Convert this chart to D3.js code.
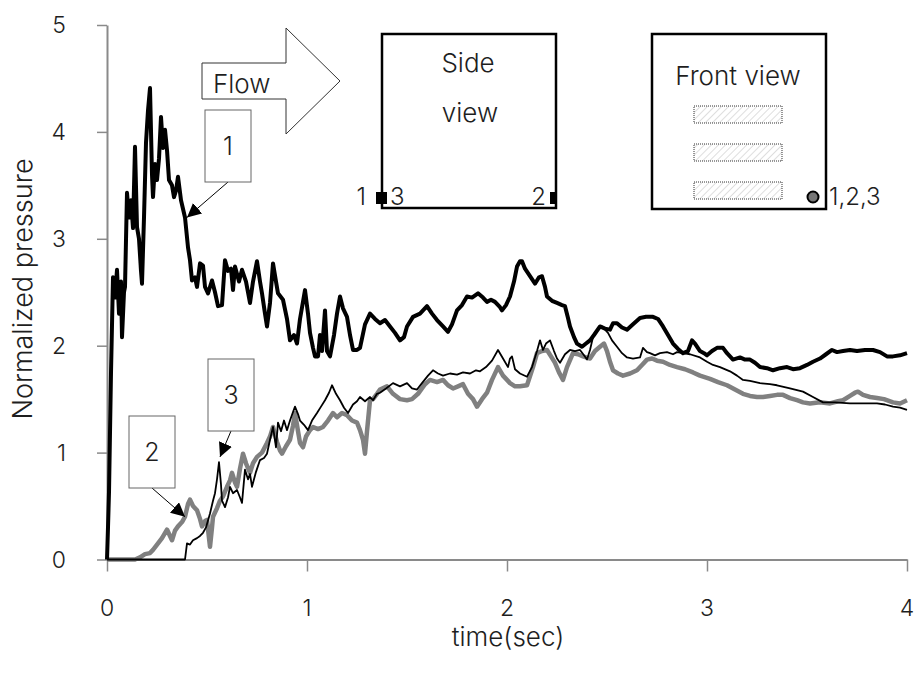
<!DOCTYPE html>
<html>
<head>
<meta charset="utf-8">
<script src="https://cdn.jsdelivr.net/npm/d3@7"></script>
<style>
  html, body { margin: 0; padding: 0; background: #fff; }
  svg { display: block; }
  text { font-family: Inter, "Liberation Sans", Arial, sans-serif; font-weight: 300; fill: #1e1e1e; }
</style>
</head>
<body>
<svg id="chart" width="920" height="681"></svg>
<script>
// Axis ticks
const xTicks = [0, 1, 2, 3, 4];
const yTicks = [0, 1, 2, 3, 4, 5];

// Pressure tap 1 (upstream, thick black): [time s, normalized pressure]
const tap1 = [[0,0],[.005,.3],[.01,.63],[.02,1.75],[.03,2.64],[.04,2.45],[.05,2.71],[.06,2.3],[.07,2.6],[.075,2.08],[.085,2.5],[.09,2.55],[.1,3.43],[.11,3.2],[.12,3.36],[.13,3.1],[.14,3.86],[.15,3.11],[.16,3.0],[.17,2.7],[.175,2.58],[.185,3.2],[.195,3.9],[.205,4.2],[.215,4.41],[.225,3.6],[.23,3.39],[.24,3.7],[.25,3.55],[.26,3.75],[.27,4.14],[.28,3.85],[.29,4.02],[.3,3.83],[.31,3.55],[.325,3.5],[.335,3.39],[.345,3.45],[.355,3.58],[.37,3.36],[.39,3.2],[.405,2.92],[.415,2.8],[.425,2.61],[.44,2.64],[.45,2.55],[.465,2.77],[.48,2.75],[.49,2.55],[.505,2.49],[.525,2.61],[.54,2.5],[.555,2.37],[.575,2.38],[.59,2.8],[.605,2.7],[.62,2.72],[.63,2.52],[.64,2.74],[.66,2.6],[.675,2.71],[.695,2.6],[.715,2.4],[.73,2.6],[.75,2.79],[.765,2.6],[.775,2.49],[.79,2.3],[.8,2.18],[.815,2.4],[.83,2.77],[.845,2.6],[.855,2.49],[.88,2.43],[.9,2.25],[.915,2.05],[.935,2.1],[.95,2.02],[.965,2.25],[.99,2.52],[1.005,2.3],[1.015,2.12],[1.03,1.98],[1.04,1.9],[1.055,1.9],[1.065,2.1],[1.075,1.95],[1.09,2.33],[1.1,1.95],[1.115,1.9],[1.135,2.1],[1.15,2.3],[1.165,2.46],[1.18,2.35],[1.2,2.27],[1.215,2.1],[1.23,1.96],[1.25,1.96],[1.265,1.98],[1.29,2.2],[1.315,2.3],[1.34,2.25],[1.365,2.21],[1.39,2.24],[1.415,2.18],[1.44,2.12],[1.465,2.05],[1.485,2.08],[1.5,2.18],[1.53,2.27],[1.565,2.3],[1.6,2.37],[1.625,2.3],[1.65,2.24],[1.68,2.18],[1.705,2.13],[1.725,2.2],[1.75,2.33],[1.775,2.38],[1.8,2.46],[1.825,2.45],[1.855,2.49],[1.88,2.45],[1.9,2.41],[1.92,2.43],[1.94,2.41],[1.965,2.36],[1.975,2.33],[1.995,2.38],[2.015,2.46],[2.035,2.6],[2.05,2.74],[2.065,2.79],[2.075,2.79],[2.09,2.72],[2.115,2.65],[2.14,2.58],[2.16,2.64],[2.175,2.65],[2.19,2.55],[2.2,2.46],[2.225,2.42],[2.25,2.4],[2.275,2.38],[2.29,2.37],[2.305,2.26],[2.315,2.18],[2.335,2.08],[2.35,2.02],[2.375,1.99],[2.395,2.02],[2.415,2.05],[2.435,2.1],[2.465,2.18],[2.49,2.16],[2.515,2.15],[2.53,2.21],[2.55,2.21],[2.575,2.17],[2.6,2.15],[2.63,2.2],[2.665,2.26],[2.695,2.27],[2.73,2.27],[2.755,2.25],[2.78,2.18],[2.805,2.1],[2.83,2.02],[2.855,1.97],[2.88,1.93],[2.905,1.95],[2.925,2.05],[2.94,2.02],[2.965,1.95],[2.985,1.93],[3.0,1.91],[3.025,1.95],[3.05,1.98],[3.08,1.98],[3.1,1.93],[3.13,1.87],[3.165,1.89],[3.19,1.87],[3.215,1.87],[3.24,1.84],[3.265,1.8],[3.3,1.79],[3.33,1.77],[3.365,1.79],[3.4,1.8],[3.43,1.78],[3.465,1.79],[3.5,1.82],[3.53,1.85],[3.565,1.88],[3.595,1.92],[3.625,1.96],[3.65,1.94],[3.68,1.95],[3.715,1.96],[3.75,1.95],[3.79,1.96],[3.83,1.96],[3.865,1.94],[3.9,1.9],[3.93,1.9],[3.965,1.91],[4.0,1.93]];

// Pressure tap 2 (downstream, grey)
const tap2 = [[0,0],[.14,0],[.165,.02],[.19,.05],[.215,.06],[.23,.09],[.255,.15],[.275,.2],[.3,.28],[.315,.22],[.325,.18],[.34,.27],[.355,.31],[.375,.35],[.39,.4],[.405,.52],[.415,.56],[.43,.5],[.45,.46],[.465,.38],[.475,.31],[.49,.36],[.5,.37],[.51,.2],[.515,.12],[.525,.3],[.53,.4],[.55,.48],[.565,.55],[.58,.59],[.6,.68],[.615,.74],[.625,.81],[.64,.72],[.65,.68],[.665,.85],[.68,.99],[.695,.9],[.715,.81],[.73,.9],[.75,.96],[.775,1.0],[.8,1.09],[.815,1.15],[.83,1.24],[.85,1.1],[.865,1.02],[.875,.99],[.895,1.06],[.915,1.12],[.93,1.25],[.94,1.37],[.955,1.2],[.965,1.09],[.98,1.05],[.995,1.15],[1.015,1.21],[1.03,1.24],[1.055,1.22],[1.08,1.24],[1.105,1.3],[1.13,1.37],[1.15,1.33],[1.175,1.37],[1.2,1.35],[1.225,1.3],[1.25,1.28],[1.265,1.21],[1.28,1.12],[1.29,.99],[1.3,1.2],[1.315,1.49],[1.33,1.5],[1.35,1.55],[1.365,1.59],[1.4,1.62],[1.43,1.55],[1.465,1.5],[1.5,1.49],[1.525,1.5],[1.555,1.55],[1.59,1.64],[1.615,1.68],[1.65,1.66],[1.68,1.68],[1.705,1.63],[1.73,1.6],[1.755,1.62],[1.78,1.64],[1.805,1.55],[1.83,1.5],[1.85,1.43],[1.875,1.5],[1.9,1.56],[1.925,1.68],[1.955,1.8],[1.98,1.72],[2.0,1.68],[2.015,1.65],[2.04,1.62],[2.065,1.62],[2.1,1.63],[2.13,1.8],[2.15,1.93],[2.175,1.95],[2.2,1.96],[2.22,1.9],[2.24,1.84],[2.26,1.75],[2.28,1.68],[2.3,1.8],[2.33,1.93],[2.355,1.92],[2.38,1.9],[2.415,1.88],[2.44,1.95],[2.465,1.99],[2.485,2.02],[2.5,1.95],[2.515,1.85],[2.53,1.77],[2.555,1.74],[2.58,1.72],[2.615,1.74],[2.65,1.77],[2.675,1.82],[2.7,1.87],[2.725,1.88],[2.75,1.86],[2.78,1.85],[2.815,1.82],[2.85,1.8],[2.89,1.78],[2.93,1.75],[2.965,1.72],[3.015,1.69],[3.055,1.66],[3.1,1.63],[3.14,1.59],[3.18,1.55],[3.215,1.53],[3.25,1.52],[3.28,1.52],[3.315,1.53],[3.35,1.54],[3.38,1.54],[3.415,1.51],[3.45,1.49],[3.48,1.47],[3.515,1.46],[3.565,1.47],[3.615,1.46],[3.655,1.48],[3.68,1.49],[3.715,1.53],[3.74,1.56],[3.755,1.57],[3.78,1.54],[3.815,1.52],[3.85,1.51],[3.885,1.5],[3.93,1.47],[3.965,1.46],[4.0,1.49]];

// Pressure tap 3 (upstream, thin black)
const tap3 = [[0,0],[.39,0],[.4,.15],[.415,.14],[.43,.18],[.45,.2],[.465,.22],[.48,.25],[.495,.3],[.515,.43],[.53,.55],[.54,.62],[.55,.75],[.56,.91],[.57,.7],[.575,.55],[.59,.49],[.605,.58],[.615,.68],[.63,.62],[.65,.65],[.665,.58],[.675,.53],[.69,.84],[.705,.75],[.715,.8],[.725,.68],[.745,.82],[.765,.93],[.785,.95],[.8,.99],[.815,1.12],[.83,1.24],[.845,1.05],[.855,1.28],[.87,1.2],[.885,1.3],[.9,1.21],[.915,1.3],[.93,1.38],[.94,1.43],[.955,1.36],[.965,1.3],[.985,1.26],[1.005,1.21],[1.025,1.3],[1.05,1.37],[1.07,1.43],[1.09,1.49],[1.11,1.56],[1.125,1.63],[1.145,1.55],[1.165,1.49],[1.185,1.42],[1.205,1.37],[1.23,1.45],[1.25,1.48],[1.265,1.52],[1.29,1.48],[1.315,1.52],[1.33,1.49],[1.35,1.55],[1.365,1.56],[1.395,1.6],[1.43,1.65],[1.465,1.62],[1.5,1.65],[1.525,1.6],[1.55,1.59],[1.575,1.65],[1.605,1.72],[1.63,1.77],[1.655,1.74],[1.68,1.72],[1.715,1.74],[1.75,1.73],[1.78,1.75],[1.815,1.74],[1.845,1.77],[1.865,1.76],[1.895,1.8],[1.925,1.86],[1.955,1.96],[1.98,1.88],[2.005,1.8],[2.015,1.88],[2.025,1.9],[2.04,1.78],[2.065,1.74],[2.1,1.71],[2.125,1.8],[2.15,1.95],[2.165,2.05],[2.18,1.96],[2.195,2.02],[2.215,2.05],[2.235,1.95],[2.25,1.88],[2.265,1.84],[2.29,1.92],[2.315,1.96],[2.34,1.95],[2.365,1.96],[2.385,1.91],[2.4,1.87],[2.415,1.96],[2.43,2.08],[2.45,2.14],[2.475,2.18],[2.49,2.15],[2.505,2.12],[2.525,2.05],[2.55,1.99],[2.575,1.93],[2.6,1.89],[2.63,1.88],[2.665,1.89],[2.68,1.98],[2.7,1.94],[2.715,1.93],[2.74,1.91],[2.765,1.93],[2.8,1.94],[2.83,1.92],[2.85,1.94],[2.88,1.93],[2.915,1.92],[2.965,1.89],[3.0,1.85],[3.03,1.82],[3.065,1.8],[3.115,1.76],[3.15,1.72],[3.18,1.68],[3.215,1.67],[3.265,1.65],[3.315,1.64],[3.35,1.63],[3.415,1.6],[3.48,1.57],[3.53,1.52],[3.58,1.47],[3.64,1.47],[3.715,1.46],[3.79,1.46],[3.85,1.46],[3.89,1.45],[3.93,1.43],[3.965,1.42],[4.0,1.4]];

const svg = d3.select("#chart");

const x = d3.scaleLinear().domain([0, 4]).range([107, 907]);
const y = d3.scaleLinear().domain([0, 5]).range([559.5, 25]);

const axisColor = "#8a8a8a";

// ---- axes ----
const gy = svg.append("g").attr("transform", `translate(${x(0)},0)`)
  .call(d3.axisLeft(y).tickValues(yTicks).tickSize(10).tickSizeOuter(0).tickFormat(""));
const gx = svg.append("g").attr("transform", `translate(0,${y(0)})`)
  .call(d3.axisBottom(x).tickValues(xTicks).tickSize(12).tickSizeOuter(0).tickFormat(""));
[gy, gx].forEach(g => {
  g.selectAll("path.domain").attr("stroke", axisColor).attr("stroke-width", 2);
  g.selectAll(".tick line").attr("stroke", axisColor).attr("stroke-width", 1.5);
});

svg.append("g").selectAll("text").data(yTicks).join("text")
  .attr("x", 66).attr("y", d => y(d)).attr("dy", "0.36em")
  .attr("text-anchor", "end").attr("font-size", 23).text(d => d);
svg.append("g").selectAll("text").data(xTicks).join("text")
  .attr("x", d => x(d)).attr("y", 608).attr("dy", "0.36em")
  .attr("text-anchor", "middle").attr("font-size", 23).text(d => d);

svg.append("text").attr("x", 508).attr("y", 637).attr("dy", "0.36em")
  .attr("text-anchor", "middle").attr("font-size", 26).text("time(sec)");
svg.append("text").attr("transform", "translate(22,289) rotate(-90)").attr("dy", "0.36em")
  .attr("text-anchor", "middle").attr("font-size", 27).text("Normalized pressure");

// ---- traces ----
const line = d3.line().x(d => x(d[0])).y(d => y(d[1]));
svg.append("path").datum(tap2).attr("d", line)
  .attr("fill", "none").attr("stroke", "#808080").attr("stroke-width", 4.5).attr("stroke-linejoin", "round");
svg.append("path").datum(tap3).attr("d", line)
  .attr("fill", "none").attr("stroke", "#000").attr("stroke-width", 1.8).attr("stroke-linejoin", "round");
svg.append("path").datum(tap1).attr("d", line)
  .attr("fill", "none").attr("stroke", "#000").attr("stroke-width", 4).attr("stroke-linejoin", "round");

// ---- callouts naming each trace ----
const defs = svg.append("defs");
defs.append("marker").attr("id", "head").attr("viewBox", "0 0 10 10")
  .attr("refX", 10).attr("refY", 5).attr("markerWidth", 14).attr("markerHeight", 14)
  .attr("markerUnits", "userSpaceOnUse").attr("orient", "auto")
  .append("path").attr("d", "M0,0 L10,5 L0,10 z").attr("fill", "#000");

const callouts = [
  { label: "1", box: [205, 110, 46, 72], tip: [0.4, 3.2] },
  { label: "2", box: [129, 416, 46, 72], tip: [0.39, 0.4] },
  { label: "3", box: [208, 359, 46, 72], tip: [0.565, 0.96] }
];
callouts.forEach(c => {
  const [bx, by, bw, bh] = c.box;
  const g = svg.append("g");
  g.append("line").attr("x1", bx + bw / 2).attr("y1", by + bh)
    .attr("x2", x(c.tip[0])).attr("y2", y(c.tip[1]))
    .attr("stroke", "#000").attr("stroke-width", 1).attr("marker-end", "url(#head)");
  g.append("rect").attr("x", bx).attr("y", by).attr("width", bw).attr("height", bh)
    .attr("fill", "#fff").attr("stroke", "#666").attr("stroke-width", 1);
  g.append("text").attr("x", bx + bw / 2).attr("y", by + bh / 2).attr("dy", "0.36em")
    .attr("text-anchor", "middle").attr("font-size", 25).text(c.label);
});

// ---- flow arrow ----
svg.append("path")
  .attr("d", "M202,63 L286,63 L286,28 L340,81 L286,134 L286,99 L202,99 Z")
  .attr("fill", "#fff").attr("stroke", "#333").attr("stroke-width", 1);
svg.append("text").attr("x", 213).attr("y", 93).attr("font-size", 26).text("Flow");

// ---- side view sketch ----
const side = svg.append("g");
side.append("rect").attr("x", 382).attr("y", 34).attr("width", 174).attr("height", 174)
  .attr("fill", "#fff").attr("stroke", "#000").attr("stroke-width", 2.5);
side.append("text").attr("x", 468).attr("y", 72).attr("text-anchor", "middle").attr("font-size", 26).text("Side");
side.append("text").attr("x", 470).attr("y", 122).attr("text-anchor", "middle").attr("font-size", 26).text("view");
side.append("rect").attr("x", 376).attr("y", 192).attr("width", 11).attr("height", 12).attr("fill", "#000");
side.append("rect").attr("x", 550).attr("y", 192).attr("width", 7).attr("height", 12).attr("fill", "#000");
side.append("text").attr("x", 366).attr("y", 205).attr("text-anchor", "end").attr("font-size", 24).text("1");
side.append("text").attr("x", 390).attr("y", 205).attr("font-size", 24).text("3");
side.append("text").attr("x", 546).attr("y", 205).attr("text-anchor", "end").attr("font-size", 24).text("2");

// ---- front view sketch ----
const hatch = defs.append("pattern").attr("id", "hatch").attr("patternUnits", "userSpaceOnUse")
  .attr("width", 5).attr("height", 5).attr("patternTransform", "rotate(45)");
hatch.append("line").attr("x1", 0).attr("y1", 0).attr("x2", 0).attr("y2", 5)
  .attr("stroke", "#c8c8c8").attr("stroke-width", 1.2);

const front = svg.append("g");
front.append("rect").attr("x", 652).attr("y", 34).attr("width", 174).attr("height", 175)
  .attr("fill", "#fff").attr("stroke", "#000").attr("stroke-width", 2.5);
front.append("text").attr("x", 738).attr("y", 85).attr("text-anchor", "middle").attr("font-size", 26).text("Front view");
[106, 144, 182].forEach(ty => {
  front.append("rect").attr("x", 694).attr("y", ty).attr("width", 88).attr("height", 17)
    .attr("fill", "url(#hatch)").attr("stroke", "#333").attr("stroke-width", 1)
    .attr("stroke-dasharray", "1,1");
});
front.append("circle").attr("cx", 813).attr("cy", 197).attr("r", 5.5)
  .attr("fill", "#777").attr("stroke", "#000").attr("stroke-width", 2);
front.append("text").attr("x", 829).attr("y", 205).attr("font-size", 24).text("1,2,3");
</script>
</body>
</html>
